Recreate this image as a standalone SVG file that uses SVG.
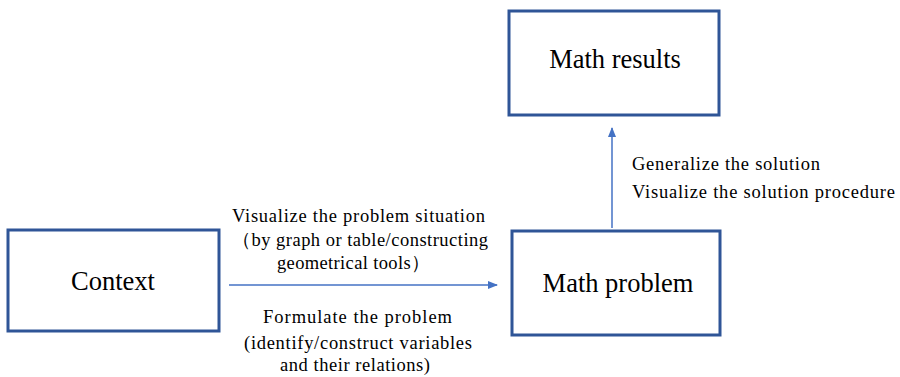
<svg xmlns="http://www.w3.org/2000/svg" width="900" height="377" viewBox="0 0 900 377">
<defs>
<marker id="ah" markerWidth="10" markerHeight="10" refX="9" refY="5" orient="auto" markerUnits="userSpaceOnUse">
<path d="M0,1 L10,5 L0,9 Z" fill="#4472C4"/>
</marker>
</defs>
<style>
.box{fill:#fff;stroke:#2F5597;stroke-width:3}
.t{font-family:"Liberation Serif","Times New Roman",serif;fill:#000}
.big{font-size:26.5px;text-anchor:middle}
.lab{font-size:18.5px}
.conn{stroke:#4472C4;stroke-width:1.5;fill:none}
</style>
<rect width="900" height="377" fill="#fff"/>
<g id="context">
<rect class="box" x="8" y="230" width="211" height="101"/>
<text class="t big" x="113" y="290">Context</text>
</g>
<g id="math-results">
<rect class="box" x="509" y="11" width="210" height="104"/>
<text class="t big" x="615" y="68">Math results</text>
</g>
<g id="math-problem">
<rect class="box" x="512" y="231" width="208" height="104"/>
<text class="t big" x="618" y="292">Math problem</text>
</g>
<g id="connectors">
<line class="conn" x1="229" y1="285" x2="497" y2="285" marker-end="url(#ah)"/>
<line class="conn" x1="612" y1="228" x2="612" y2="128" marker-end="url(#ah)"/>
</g>
<g id="labels">
<text class="t lab" x="232" y="222" textLength="253" lengthAdjust="spacing">Visualize the problem situation</text>
<text class="t lab" x="232" y="246" textLength="256" lengthAdjust="spacing">（by graph or table/constructing</text>
<text class="t lab" x="277" y="269" textLength="153" lengthAdjust="spacing">geometrical tools）</text>
<text class="t lab" x="263" y="323" textLength="189" lengthAdjust="spacing">Formulate the problem</text>
<text class="t lab" x="244" y="349" textLength="228" lengthAdjust="spacing">(identify/construct variables</text>
<text class="t lab" x="280" y="371" textLength="150" lengthAdjust="spacing">and their relations)</text>
<text class="t lab" x="632" y="170" textLength="188" lengthAdjust="spacing">Generalize the solution</text>
<text class="t lab" x="632" y="198" textLength="263" lengthAdjust="spacing">Visualize the solution procedure</text>
</g>
</svg>
